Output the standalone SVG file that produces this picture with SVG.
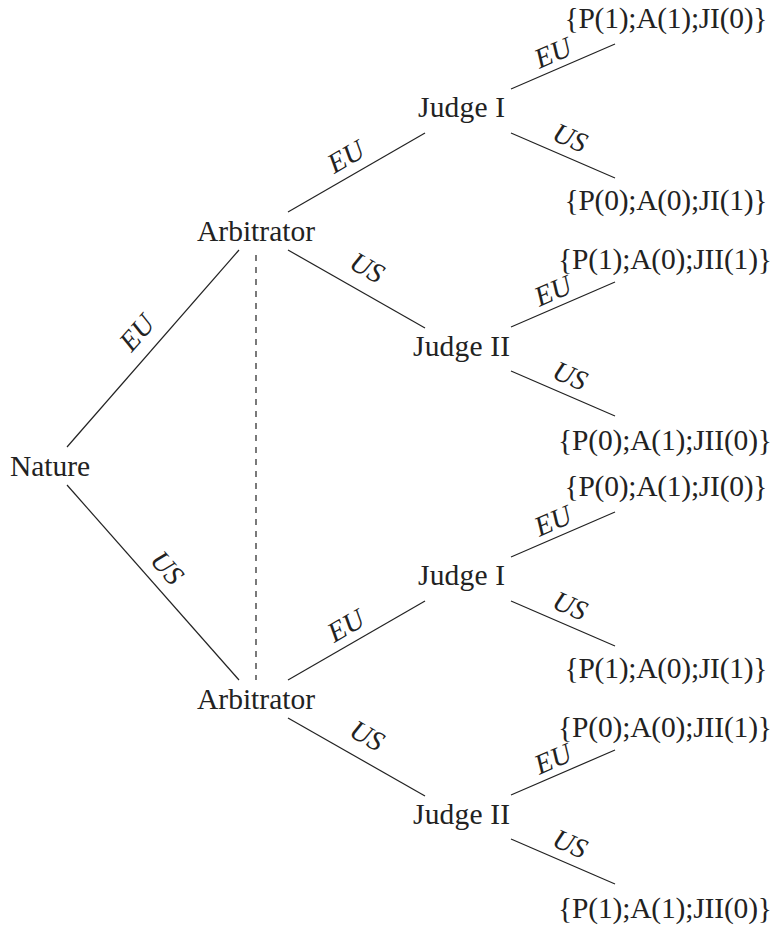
<svg xmlns="http://www.w3.org/2000/svg" width="778" height="929" viewBox="0 0 778 929">
<style>
.n{font-family:"Liberation Serif","Times New Roman",serif;font-size:29.5px;fill:#222;text-anchor:middle}
.l{font-family:"Liberation Serif","Times New Roman",serif;font-size:28px;font-style:italic;fill:#222;text-anchor:middle}
.e line{stroke:#222;stroke-width:1.2}
.d{stroke:#777;stroke-width:1.3;stroke-dasharray:6 6}
</style>
<rect width="778" height="929" fill="#fff"/>
<g id="connectors" class="e">
<line x1="67" y1="447" x2="239" y2="250"/>
<line x1="67" y1="485" x2="239" y2="680"/>
<line x1="288" y1="212" x2="425" y2="133"/>
<line x1="288" y1="250" x2="425" y2="328"/>
<line x1="511" y1="89" x2="615" y2="44"/>
<line x1="511" y1="133" x2="615" y2="178"/>
<line x1="511" y1="327" x2="615" y2="282"/>
<line x1="511" y1="371" x2="615" y2="416"/>
<line x1="288" y1="680" x2="425" y2="601"/>
<line x1="288" y1="718" x2="425" y2="796"/>
<line x1="511" y1="557" x2="615" y2="512"/>
<line x1="511" y1="601" x2="615" y2="646"/>
<line x1="511" y1="795" x2="615" y2="750"/>
<line x1="511" y1="839" x2="615" y2="884"/>
<line class="d" x1="256" y1="255" x2="256" y2="680"/>
<g transform="translate(137,333) rotate(-48.7)"><text class="l" y="9">EU</text></g>
<g transform="translate(167,568) rotate(48.6)"><text class="l" y="9">US</text></g>
<g transform="translate(346,157) rotate(-30)"><text class="l" y="9">EU</text></g>
<g transform="translate(367,268) rotate(29.3)"><text class="l" y="9">US</text></g>
<g transform="translate(346,626) rotate(-30)"><text class="l" y="9">EU</text></g>
<g transform="translate(367,736) rotate(29.3)"><text class="l" y="9">US</text></g>
<g transform="translate(553,53) rotate(-23.4)"><text class="l" y="9">EU</text></g>
<g transform="translate(570,138) rotate(23.4)"><text class="l" y="9">US</text></g>
<g transform="translate(553,291) rotate(-23.4)"><text class="l" y="9">EU</text></g>
<g transform="translate(570,376) rotate(23.4)"><text class="l" y="9">US</text></g>
<g transform="translate(553,521) rotate(-23.4)"><text class="l" y="9">EU</text></g>
<g transform="translate(570,606) rotate(23.4)"><text class="l" y="9">US</text></g>
<g transform="translate(553,759) rotate(-23.4)"><text class="l" y="9">EU</text></g>
<g transform="translate(570,844) rotate(23.4)"><text class="l" y="9">US</text></g>
</g>
<g id="nature"><text class="n" x="50" y="476" textLength="80">Nature</text></g>
<g id="arb1"><text class="n" x="256" y="241" textLength="118">Arbitrator</text></g>
<g id="arb2"><text class="n" x="256" y="709" textLength="118">Arbitrator</text></g>
<g id="judgeI1"><text class="n" x="461.5" y="117" textLength="87">Judge I</text></g>
<g id="judgeII1"><text class="n" x="461.5" y="356" textLength="97">Judge II</text></g>
<g id="judgeI2"><text class="n" x="461.5" y="585" textLength="87">Judge I</text></g>
<g id="judgeII2"><text class="n" x="461.5" y="824" textLength="97">Judge II</text></g>
<g id="leaf1"><text class="n" x="666" y="28" textLength="203">{P(1);A(1);JI(0)}</text></g>
<g id="leaf2"><text class="n" x="666" y="210" textLength="203">{P(0);A(0);JI(1)}</text></g>
<g id="leaf3"><text class="n" x="665" y="269" textLength="214">{P(1);A(0);JII(1)}</text></g>
<g id="leaf4"><text class="n" x="665" y="450" textLength="214">{P(0);A(1);JII(0)}</text></g>
<g id="leaf5"><text class="n" x="666" y="496" textLength="203">{P(0);A(1);JI(0)}</text></g>
<g id="leaf6"><text class="n" x="666" y="678" textLength="203">{P(1);A(0);JI(1)}</text></g>
<g id="leaf7"><text class="n" x="665" y="737" textLength="214">{P(0);A(0);JII(1)}</text></g>
<g id="leaf8"><text class="n" x="665" y="918" textLength="214">{P(1);A(1);JII(0)}</text></g>
</svg>
